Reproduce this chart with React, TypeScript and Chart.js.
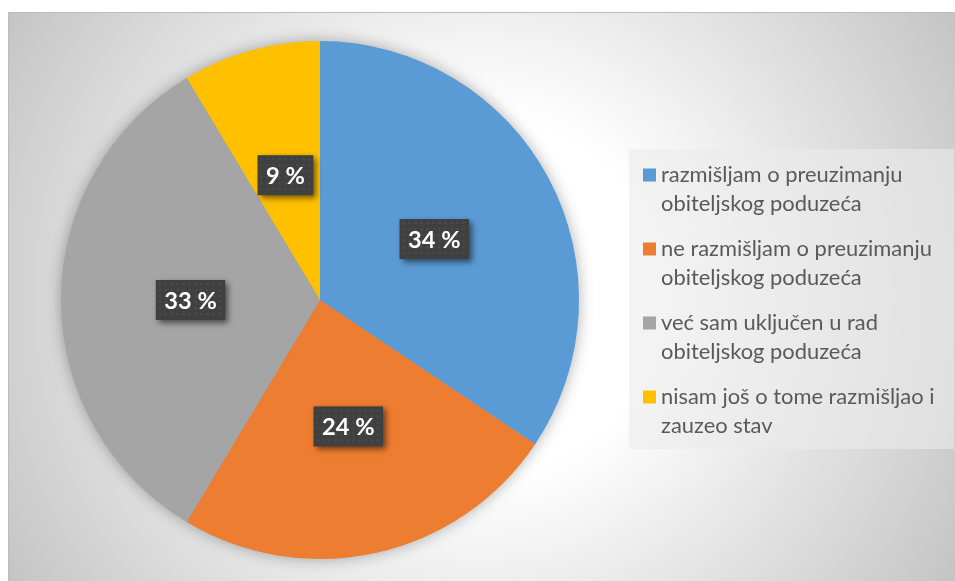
import React, { useEffect, useRef } from "react";
import { Chart, registerables } from "chart.js";

Chart.register(...registerables);

// ---- data ----
const categories: string[][] = [
  ["razmišljam o preuzimanju", "obiteljskog poduzeća"],
  ["ne razmišljam o preuzimanju", "obiteljskog poduzeća"],
  ["već sam uključen u rad", "obiteljskog poduzeća"],
  ["nisam još o tome razmišljao i", "zauzeo stav"],
];
const percentages: number[] = [34.4, 24.2, 32.8, 8.6];
const sliceColors: string[] = ["#5B9BD5", "#ED7D31", "#A5A5A5", "#FFC000"];

const W = 947;
const H = 569;
const FONT = "Lato, 'Open Sans', sans-serif";

function fitSize(ctx: CanvasRenderingContext2D, text: string, weight: string, target: number) {
  ctx.save();
  ctx.font = `${weight} 100px ${FONT}`;
  const w = ctx.measureText(text).width;
  ctx.restore();
  return (100 * target) / w;
}

const fmt = (v: number) => `${Math.round(v)} %`;

const backgroundPlugin = {
  id: "bgAndLegend",
  beforeDraw(chart: any) {
    const ctx: CanvasRenderingContext2D = chart.ctx;
    ctx.save();
    const g = ctx.createRadialGradient(472, 284, 0, 472, 284, 560);
    g.addColorStop(0, "#ffffff");
    g.addColorStop(0.32, "#ffffff");
    g.addColorStop(1, "#c3c3c3");
    ctx.fillStyle = g;
    ctx.fillRect(0, 0, W, H);
    ctx.strokeStyle = "#bcbcbc";
    ctx.lineWidth = 1;
    ctx.beginPath();
    ctx.moveTo(0.5, H);
    ctx.lineTo(0.5, 0.5);
    ctx.lineTo(W, 0.5);
    ctx.stroke();

    // legend box
    ctx.fillStyle = "rgba(235,235,235,0.6)";
    ctx.fillRect(621, 137, 325, 300);

    const size = fitSize(ctx, categories[1][0], "normal", 271);
    ctx.font = `normal ${size}px ${FONT}`;
    ctx.textBaseline = "middle";
    ctx.textAlign = "left";
    const firstY = 163;
    const step = 74;
    const lh = 29;
    categories.forEach((lines, i) => {
      const y = firstY + i * step;
      ctx.fillStyle = sliceColors[i];
      ctx.fillRect(635, y - 6.5, 13, 13);
      ctx.fillStyle = "#595959";
      lines.forEach((ln, j) => ctx.fillText(ln, 653, y + j * lh));
    });
    ctx.restore();
  },
  beforeDatasetsDraw(chart: any) {
    const ctx: CanvasRenderingContext2D = chart.ctx;
    const arc = chart.getDatasetMeta(0).data[0];
    if (!arc) return;
    ctx.save();
    ctx.shadowColor = "rgba(0,0,0,0.35)";
    ctx.shadowBlur = 16;
    ctx.fillStyle = "#a0a0a0";
    ctx.beginPath();
    ctx.arc(arc.x, arc.y, arc.outerRadius - 1, 0, Math.PI * 2);
    ctx.fill();
    ctx.restore();
  },
  afterDatasetsDraw(chart: any) {
    const ctx: CanvasRenderingContext2D = chart.ctx;
    const meta = chart.getDatasetMeta(0);
    const size = fitSize(ctx, fmt(percentages[0]), "bold", 52.5);
    ctx.save();
    meta.data.forEach((arc: any, i: number) => {
      const { x, y } = arc.tooltipPosition(false);
      const text = fmt(percentages[i]);
      ctx.font = `bold ${size}px ${FONT}`;
      const tw = ctx.measureText(text).width;
      const bw = tw + 17;
      const bh = 40;
      const bx = x - bw / 2;
      const by = y - bh / 2;
      ctx.save();
      ctx.shadowColor = "rgba(0,0,0,0.55)";
      ctx.shadowBlur = 6;
      ctx.shadowOffsetX = 3;
      ctx.shadowOffsetY = 3;
      ctx.fillStyle = "#404040";
      ctx.fillRect(bx, by, bw, bh);
      ctx.restore();
      ctx.fillStyle = "rgba(255,255,255,0.07)";
      for (let dx = 3; dx < bw - 2; dx += 6) {
        for (let dy = 3; dy < bh - 2; dy += 6) {
          ctx.fillRect(bx + dx, by + dy, 2, 2);
        }
      }
      ctx.fillStyle = "#ffffff";
      ctx.textAlign = "center";
      ctx.textBaseline = "middle";
      ctx.fillText(text, x, y + 1);
    });
    ctx.restore();
  },
};

export default function App() {
  const ref = useRef<HTMLCanvasElement | null>(null);
  useEffect(() => {
    if (!ref.current) return;
    const chart = new Chart(ref.current, {
      type: "pie",
      data: {
        labels: categories,
        datasets: [
          {
            data: percentages,
            backgroundColor: sliceColors,
            borderWidth: 0,
            hoverOffset: 0,
          },
        ],
      },
      options: {
        responsive: false,
        animation: false,
        devicePixelRatio: 1,
        layout: { padding: { left: 53, top: 29, right: 376, bottom: 22 } },
        plugins: {
          legend: { display: false },
          tooltip: { enabled: false },
        },
      },
      plugins: [backgroundPlugin],
    });
    return () => chart.destroy();
  }, []);
  return (
    <div style={{ position: "fixed", left: 8, top: 12, width: W, height: H }}>
      <canvas ref={ref} width={W} height={H} style={{ display: "block", width: W, height: H }} />
    </div>
  );
}
